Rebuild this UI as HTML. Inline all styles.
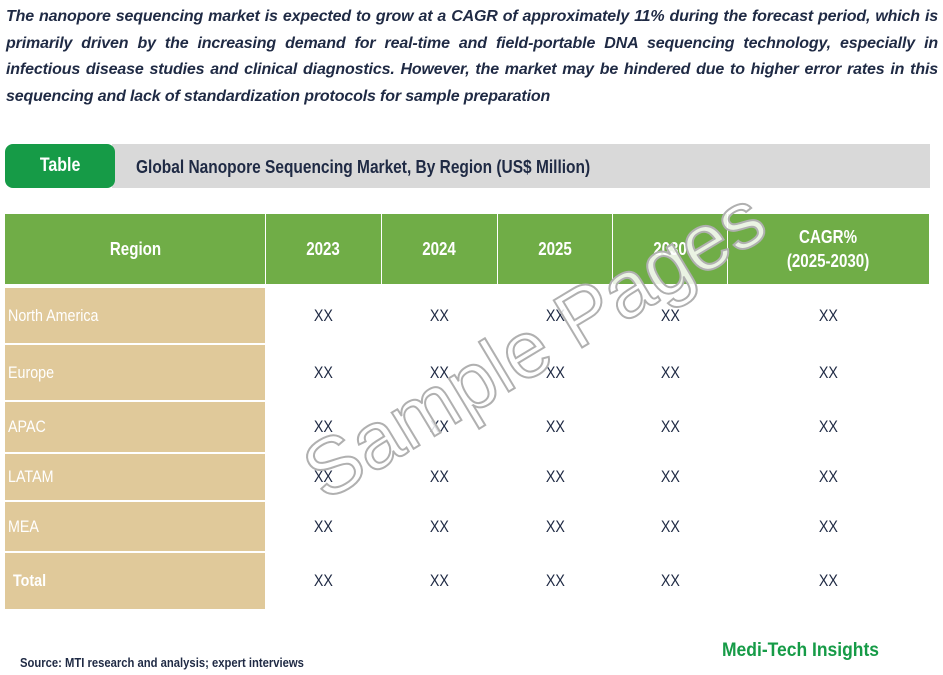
<!DOCTYPE html>
<html><head><meta charset="utf-8"><style>
body{margin:0;width:943px;height:675px;position:relative;background:#fff;overflow:hidden;font-family:"Liberation Sans",sans-serif;}
.a{position:absolute;box-sizing:border-box;}
.n{display:inline-block;transform:scaleX(.84);}
.intro{left:6px;top:4px;width:932px;font-size:16px;line-height:26.5px;font-weight:bold;font-style:italic;color:#1f2a44;text-align:justify;letter-spacing:-0.15px}
.hc{background:#70ad47;color:#fff;font-weight:bold;font-size:18px;display:flex;align-items:center;justify-content:center;text-align:center;line-height:24px}
.rc{background:#e0c99a;color:#fff;font-size:17px;display:flex;align-items:center;padding-left:3px}
.rc .n{transform-origin:left center}
.v{color:#1f2a44;font-size:17px;display:flex;align-items:center;justify-content:center}
</style></head><body>
<div class="a intro">The nanopore sequencing market is expected to grow at a CAGR of approximately 11% during the forecast period, which is primarily driven by the increasing demand for real-time and field-portable DNA sequencing technology, especially in infectious disease studies and clinical diagnostics. However, the market may be hindered due to higher error rates in this sequencing and lack of standardization protocols for sample preparation</div>
<div class="a" style="left:112px;top:144px;width:818px;height:44px;background:#d9d9d9;"></div>
<div class="a" style="left:5px;top:144px;width:110px;height:44px;background:#169b47;border-radius:8px;color:#fff;font-weight:bold;font-size:19px;display:flex;align-items:center;justify-content:center"><span class="n">Table</span></div>
<div class="a" style="left:136px;top:144px;height:46px;display:flex;align-items:center;font-size:18px;font-weight:bold;color:#1f2a44"><span class="n" style="transform-origin:left center;white-space:nowrap;transform:scaleX(.86)">Global Nanopore Sequencing Market, By Region (US$ Million)</span></div>
<div id="tbl"></div>
<div class="a" style="left:20px;top:656px;font-size:12.5px;font-weight:bold;color:#1f2a44;white-space:nowrap"><span class="n" style="transform-origin:left center;transform:scaleX(.9)">Source: MTI research and analysis; expert interviews</span></div>
<div class="a" style="left:722px;top:640px;font-size:19px;font-weight:bold;color:#169b47;white-space:nowrap"><span class="n" style="transform-origin:left center;transform:scaleX(.92)">Medi-Tech Insights</span></div>
<svg class="a" style="left:0;top:0" width="943" height="675"><text x="548" y="368" text-anchor="middle" transform="rotate(-31 548 368)" font-family="Liberation Sans,sans-serif" font-size="80" fill="#fff" fill-opacity="0.85" stroke="#b0b0b0" stroke-width="2">Sample Pages</text></svg>
<script>
const cols=[[5,260],[266,115],[382,115],[498,114],[613,114],[728,201]];
const headers=["Region","2023","2024","2025","2030","CAGR%<br>(2025-2030)"];
const regions=["North America","Europe","APAC","LATAM","MEA","Total"];
const values=["XX","XX","XX","XX","XX"];
const rows=[[288,55],[345,55],[402,50],[454,46],[502,49],[553,56]];
const t=document.getElementById('tbl');
headers.forEach((h,i)=>{const d=document.createElement('div');d.className='a hc';


d.style.cssText=`left:${cols[i][0]}px;top:214px;width:${cols[i][1]}px;height:70px`;d.innerHTML='<span class="n">'+h+'</span>';t.appendChild(d);});
regions.forEach((r,j)=>{const d=document.createElement('div');d.className='a rc';


d.style.cssText=`left:5px;top:${rows[j][0]}px;width:260px;height:${rows[j][1]}px;${r==='Total'?'font-weight:bold;padding-left:8px':''}`;d.innerHTML='<span class="n" style="white-space:nowrap">'+r+'</span>';t.appendChild(d);
values.forEach((v,i)=>{const c=document.createElement('div');c.className='a v';


c.style.cssText=`left:${cols[i+1][0]}px;top:${rows[j][0]}px;width:${cols[i+1][1]}px;height:${rows[j][1]}px`;c.innerHTML='<span class="n">'+v+'</span>';t.appendChild(c);});});
</script>
</body></html>
